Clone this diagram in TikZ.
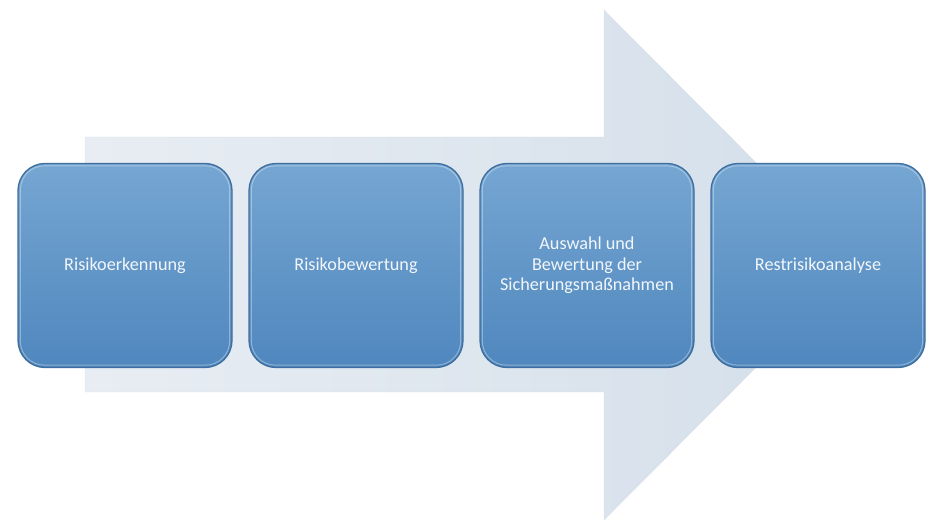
\documentclass[tikz,border=0pt]{standalone}
\usepackage{fontspec}
\setmainfont{Carlito}
\definecolor{boxtop}{HTML}{76A6D2}
\definecolor{boxbot}{HTML}{4F87BE}
\definecolor{boxline}{HTML}{3F6F9F}
\definecolor{boxtext}{HTML}{F2F6FA}
\definecolor{arrl}{HTML}{E8EDF3}
\definecolor{arrr}{HTML}{D4DFEA}
\tikzset{
  stepbox/.style={draw=boxline, line width=1.3pt, rounded corners=27pt,
    top color=boxtop, bottom color=boxbot, minimum width=214pt, minimum height=204pt,
    text=boxtext, font=\fontsize{18.2}{20.7}\selectfont, align=center, inner sep=0pt},
  glow/.style={draw=white, draw opacity=0.35, line width=1pt, rounded corners=24pt}
}
\begin{document}
\begin{tikzpicture}[x=1pt,y=-1pt]
\useasboundingbox (0,0) rectangle (940,532);
\fill[white] (0,0) rectangle (940,532);
\shade[left color=arrl, right color=arrr, draw=arrr!85!black, draw opacity=0.25]
  (85,137) -- (604,137) -- (604,10) -- (858,265) -- (604,520) -- (604,392) -- (85,392) -- cycle;
\node[stepbox] (b1) at (125,265.5) {Risikoerkennung};
\node[stepbox] (b2) at (356,265.5) {Risikobewertung};
\node[stepbox] (b3) at (587,265.5) {Auswahl und\\Bewertung der\\Sicherungsmaßnahmen};
\node[stepbox] (b4) at (818,265.5) {Restrisikoanalyse};
\foreach \b in {b1,b2,b3,b4}{
  \draw[glow] ([shift={(3,3)}]\b.north west) rectangle ([shift={(-3,-3)}]\b.south east);
}
\end{tikzpicture}
\end{document}
